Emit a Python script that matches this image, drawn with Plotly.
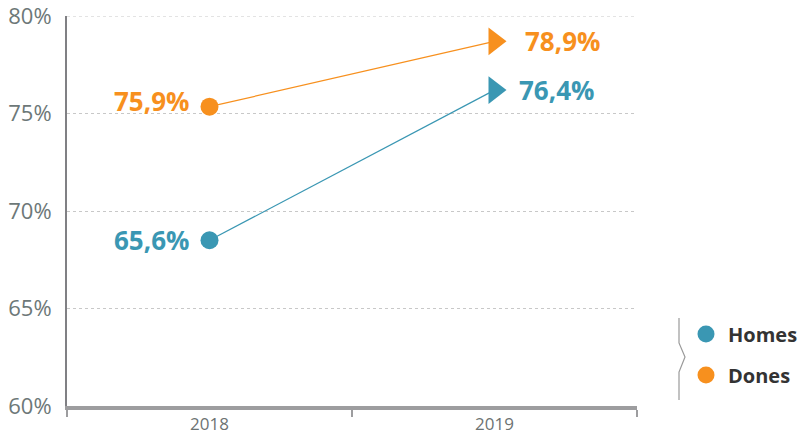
import plotly.graph_objects as go

years = ["2018", "2019"]
homes = [68.5, 76.2]
dones = [75.35, 78.7]
homes_labels = ["65,6%", "76,4%"]
dones_labels = ["75,9%", "78,9%"]
series_names = ["Homes", "Dones"]
y_ticks = [60, 65, 70, 75, 80]
y_tick_text = ["60%", "65%", "70%", "75%", "80%"]

TEAL = "#3a97b3"
ORANGE = "#f7901e"
FONT = "Open Sans, Noto Sans, sans-serif"

fig = go.Figure()
for vals, col in [(homes, TEAL), (dones, ORANGE)]:
    fig.add_trace(go.Scatter(
        x=years, y=vals, mode="lines+markers",
        line=dict(color=col, width=1.2),
        marker=dict(symbol=["circle", "triangle-right"], size=[18, 24], color=col,
                    opacity=1, line=dict(width=0)),
        opacity=1, cliponaxis=False,
        showlegend=False, hoverinfo="skip"))

annotations = []
for labels, vals, col, ys, xs in [(homes_labels, homes, TEAL, 0, 22),
                                  (dones_labels, dones, ORANGE, 6, 28)]:
    annotations.append(dict(x=0, y=vals[0], xref="x", yref="y", text=labels[0], showarrow=False,
                            xanchor="right", yanchor="middle", xshift=-19, yshift=ys,
                            font=dict(family=FONT, size=26, color=col, weight="bold")))
    annotations.append(dict(x=1, y=vals[1], xref="x", yref="y", text=labels[1], showarrow=False,
                            xanchor="left", yanchor="middle", xshift=xs, yshift=0,
                            font=dict(family=FONT, size=26, color=col, weight="bold")))

# custom legend (positions in page pixels converted to paper coords)
TOP = 16.0
W, H, L, T = 570.0, 406.0 - TOP, 67.0, TOP
def px(xp): return (xp - L) / W
def py(yp): return (T + H - yp) / H

GRID = "#c8c8c8"
shapes = [dict(type="line", xref="paper", yref="y", x0=0, x1=1, y0=80, y1=80,
               line=dict(color=GRID, width=1, dash="3px,3px"))]
for name, col, yy in [(series_names[0], TEAL, 334), (series_names[1], ORANGE, 375)]:
    shapes.append(dict(type="circle", xref="paper", yref="paper",
                       xsizemode="pixel", ysizemode="pixel",
                       xanchor=px(706), yanchor=py(yy),
                       x0=-8.5, x1=8.5, y0=-8.5, y1=8.5,
                       fillcolor=col, line=dict(width=0)))
    annotations.append(dict(x=px(726), y=py(yy), xref="paper", yref="paper",
                            text=name, showarrow=False, xanchor="left", yanchor="middle",
                            font=dict(family=FONT, size=20, color="#333333", weight="bold")))

path = "M {a},{b} L {a},{c} L {d},{e} L {a},{f} L {a},{g}".format(
    a=px(679), b=py(318), c=py(343), d=px(685), e=py(357), f=py(372), g=py(400))
shapes.append(dict(type="path", xref="paper", yref="paper", path=path,
                   line=dict(color="#9a9a9a", width=1.2)))

fig.update_layout(
    width=802, height=435,
    margin=dict(l=67, r=165, t=int(TOP), b=29, autoexpand=False),
    paper_bgcolor="white", plot_bgcolor="white",
    font=dict(family=FONT),
    annotations=annotations, shapes=shapes,
    xaxis=dict(type="category", range=[-0.5, 1.5], showgrid=False, automargin=False,
               showline=True, linecolor="#9d9d9f", linewidth=4,
               ticks="outside", tickson="boundaries", ticklen=7, tickwidth=1.5,
               tickcolor="#9d9d9f",
               tickfont=dict(family=FONT, size=17, color="#6d7373"), zeroline=False),
    yaxis=dict(range=[60, 80], tickvals=y_ticks, ticktext=y_tick_text, automargin=False,
               showgrid=True, gridcolor=GRID, griddash="3px,3px", gridwidth=1,
               showline=True, linecolor="#808084", linewidth=2, ticks="",
               ticklabelstandoff=9, ticklabeloverflow="allow",
               tickfont=dict(family=FONT, size=22, color="#6d7878"), zeroline=False),
)

fig.write_html("out.html", config={"displayModeBar": False},
               post_script="document.body.style.margin='0px';document.body.style.overflow='hidden';")
